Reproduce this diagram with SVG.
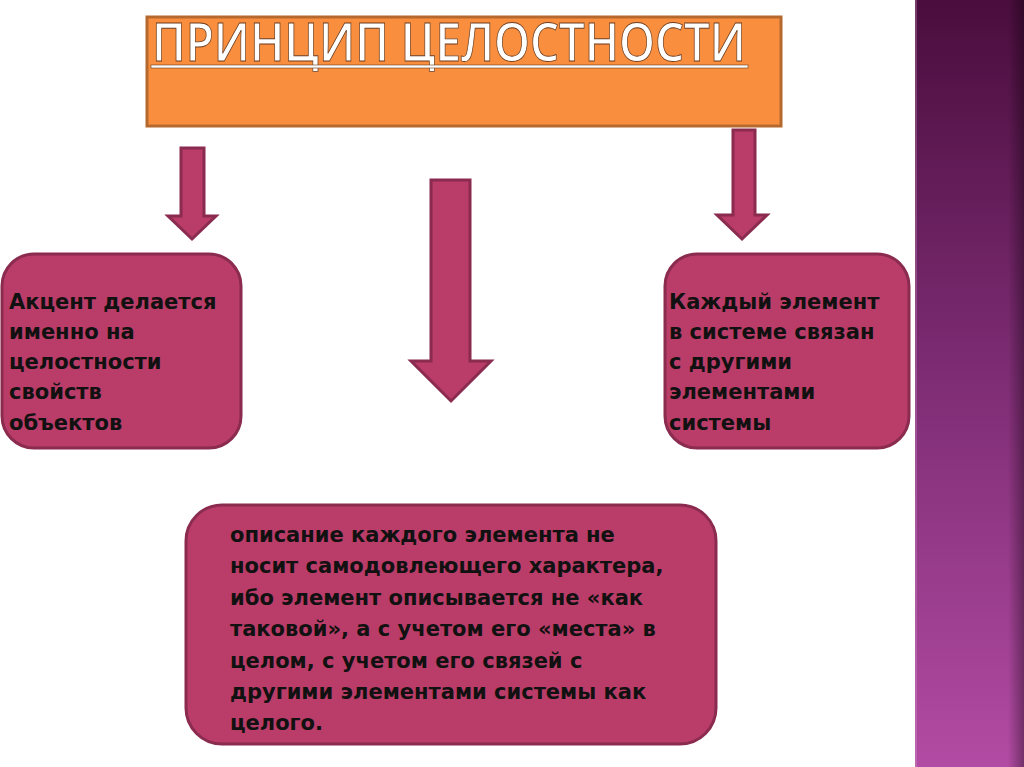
<svg xmlns="http://www.w3.org/2000/svg" width="1024" height="767" viewBox="0 0 1024 767">
<defs>
<linearGradient id="side" x1="0" y1="0" x2="0" y2="1">
<stop offset="0" stop-color="#4a0d3d"/>
<stop offset="0.45" stop-color="#7a2a70"/>
<stop offset="1" stop-color="#b24ba3"/>
</linearGradient>
<linearGradient id="sideEdge" x1="0" y1="0" x2="1" y2="0">
<stop offset="0" stop-color="#000" stop-opacity="0"/>
<stop offset="1" stop-color="#000" stop-opacity="0.35"/>
</linearGradient>
<style>
.box{fill:#b93d68;stroke:#8a2b4f;stroke-width:3}
.arrow{fill:#b93d68;stroke:#8a2b4f;stroke-width:3;stroke-linejoin:miter}
.txt{font-family:"DejaVu Sans","Open Sans",sans-serif;font-weight:bold;font-size:21px;fill:#111}
.title{font-family:"Open Sans","DejaVu Sans",sans-serif;font-weight:600;font-size:52px;fill:#fff;stroke:#6b3a1a;stroke-width:0.8}
</style>
</defs>
<rect width="1024" height="767" fill="#fff"/>
<rect x="915" y="0" width="109" height="767" fill="url(#side)"/>
<rect x="1008" y="0" width="16" height="767" fill="url(#sideEdge)"/>
<line x1="916" y1="0" x2="916" y2="767" stroke="#d9a6d0" stroke-width="1" opacity="0.6"/>

<g id="title">
<rect x="147" y="17" width="634" height="109" fill="#f98f3e" stroke="#b5692f" stroke-width="3"/>
<text class="title" x="152" y="61" textLength="594" lengthAdjust="spacingAndGlyphs">ПРИНЦИП ЦЕЛОСТНОСТИ</text>
<rect x="151" y="65" width="597" height="3" fill="#fff" stroke="#6b3a1a" stroke-width="0.6"/>
</g>

<g id="connectors">
<polygon class="arrow" points="181,148 204,148 204,216 216,216 192,239 168,216 181,216"/>
<polygon class="arrow" points="431,180 470,180 470,361 491,361 451,401 411,361 431,361"/>
<polygon class="arrow" points="733,130 755,130 755,215 767,215 742,239 717,215 733,215"/>
</g>

<g id="left">
<rect class="box" x="2" y="254" width="239" height="194" rx="32"/>
<text class="txt"><tspan x="9" y="309">Акцент делается</tspan><tspan x="9" y="339">именно на</tspan><tspan x="9" y="369">целостности</tspan><tspan x="9" y="399">свойств</tspan><tspan x="9" y="430">объектов</tspan></text>
</g>

<g id="right">
<rect class="box" x="665" y="254" width="244" height="194" rx="32"/>
<text class="txt"><tspan x="669" y="309">Каждый элемент</tspan><tspan x="669" y="339">в системе связан</tspan><tspan x="669" y="369">с другими</tspan><tspan x="669" y="399">элементами</tspan><tspan x="669" y="430">системы</tspan></text>
</g>

<g id="bottom">
<rect class="box" x="186" y="505" width="530" height="239" rx="36"/>
<text class="txt"><tspan x="230" y="542">описание каждого элемента не</tspan><tspan x="230" y="573">носит самодовлеющего характера,</tspan><tspan x="230" y="605">ибо элемент описывается не «как</tspan><tspan x="230" y="636">таковой», а с учетом его «места» в</tspan><tspan x="230" y="668">целом, с учетом его связей с</tspan><tspan x="230" y="699">другими элементами системы как</tspan><tspan x="230" y="730">целого.</tspan></text>
</g>
</svg>
